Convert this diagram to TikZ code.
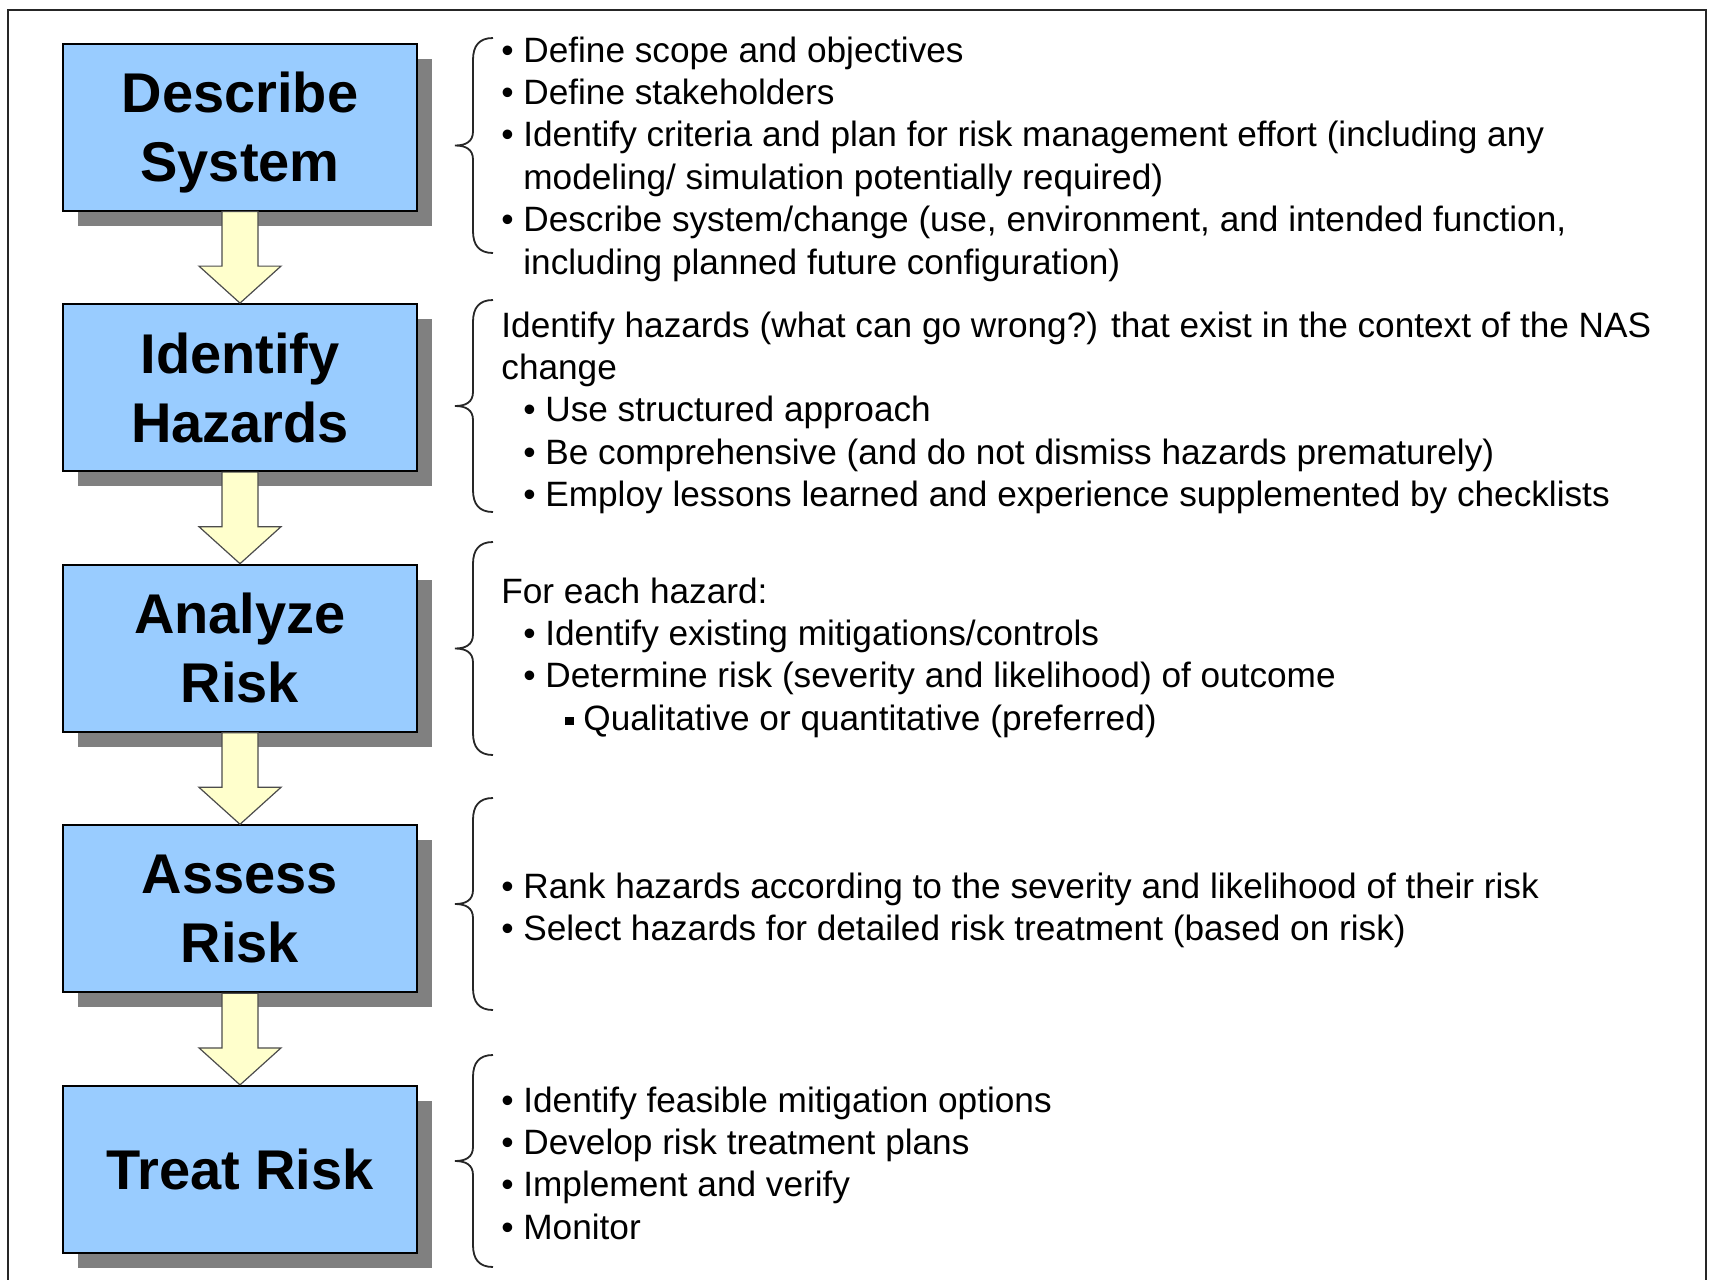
\documentclass[tikz,border=0pt]{standalone}
\usepackage{fontspec}
\setmainfont{Liberation Sans}
\usetikzlibrary{calc,shadows}

\definecolor{stageblue}{RGB}{153,204,255}
\definecolor{flowyellow}{RGB}{255,255,204}
\definecolor{shadegray}{RGB}{128,128,128}

\newcommand{\itm}{\makebox[11pt][l]{\textbullet}}
\newcommand{\sqitm}{\makebox[9pt][l]{\rule[2.5pt]{4.3pt}{4.3pt}}}
% curly brace from y=#1 down to y=#2
\newcommand{\sbrace}[2]{%
  \draw[brc] (493,#1) .. controls (479,#1) and (473,{#1+8}) .. (473,{#1+22})
    -- (473,{(#1+#2)/2-14}) .. controls (473,{(#1+#2)/2-4}) and (466,{(#1+#2)/2}) .. (455,{(#1+#2)/2})
    .. controls (466,{(#1+#2)/2}) and (473,{(#1+#2)/2+4}) .. (473,{(#1+#2)/2+14})
    -- (473,{#2-22}) .. controls (473,{#2-8}) and (479,#2) .. (493,#2);}

\tikzset{
  stage/.style={draw=black, line width=1pt, fill=stageblue,
    minimum width=177pt, minimum height=83.5pt, align=center, text depth=0pt,
    font=\fontsize{28}{34.5}\selectfont\bfseries,
    drop shadow={shadow xshift=7.5pt, shadow yshift=-7.5pt, fill=shadegray, opacity=1}},
  txt/.style={anchor=base west, inner sep=0pt, font=\fontsize{17.6}{21.2}\selectfont},
  brc/.style={draw=black!85, line width=0.9pt},
  fat/.style={draw=black!70, fill=flowyellow, line width=0.6pt,
    to path={($(\tikztostart.south)+(-18,0)$) -- ($(\tikztotarget.north)+(-18,-37)$)
      -- ++(-23,0) -- (\tikztotarget.north) -- ++(41,-37) -- ++(-23,0)
      -- ($(\tikztostart.south)+(18,0)$) -- cycle}}
}

\begin{document}
\begin{tikzpicture}[x=0.5pt,y=-0.5pt]
  \useasboundingbox (0,0) rectangle (1709,1280);
  \draw[line width=1.2pt, black!85] (8,1280) -- (8,10) -- (1706,10) -- (1706,1280);

  \draw
    (240,127) node[stage] (ds) {Describe\\System}
    (240,387.6) node[stage] (ih) {Identify\\Hazards}
    (240,648.2) node[stage] (ar) {Analyze\\Risk}
    (240,908.8) node[stage] (as) {Assess\\Risk}
    (240,1169.4) node[stage] (tr) {Treat Risk};

  \begin{scope}
    \draw[fat] (ds) to (ih);
    \draw[fat] (ih) to (ar);
    \draw[fat] (ar) to (as);
    \draw[fat] (as) to (tr);
  \end{scope}

  \sbrace{38}{253}
  \sbrace{300}{512}
  \sbrace{542}{755}
  \sbrace{798}{1010}
  \sbrace{1055}{1267}

  \draw
    (501,62) node[txt] (ds1) {\itm Define scope and objectives}
    (501,104.4) node[txt] (ds2) {\itm Define stakeholders}
    (501,146.8) node[txt] (ds3) {\itm Identify criteria and plan for risk management effort (including any}
    (523,189.2) node[txt] (ds4) {modeling/ simulation potentially required)}
    (501,231.6) node[txt] (ds5) {\itm Describe system/change (use, environment, and intended function,}
    (523,274) node[txt] (ds6) {including planned future configuration)};

  \draw
    (501,337) node[txt] (ih1) {Identify hazards (what can go wrong?) that exist in the context of the NAS}
    (501,379.4) node[txt] (ih2) {change}
    (523,421.8) node[txt] (ih3) {\itm Use structured approach}
    (523,464.2) node[txt] (ih4) {\itm Be comprehensive (and do not dismiss hazards prematurely)}
    (523,506.6) node[txt] (ih5) {\itm Employ lessons learned and experience supplemented by checklists};

  \draw
    (501,603) node[txt] (ar1) {For each hazard:}
    (523,645.4) node[txt] (ar2) {\itm Identify existing mitigations/controls}
    (523,687.8) node[txt] (ar3) {\itm Determine risk (severity and likelihood) of outcome}
    (565,730.2) node[txt] (ar4) {\sqitm Qualitative or quantitative (preferred)};

  \draw
    (501,898) node[txt] (as1) {\itm Rank hazards according to the severity and likelihood of their risk}
    (501,940.4) node[txt] (as2) {\itm Select hazards for detailed risk treatment (based on risk)};

  \draw
    (501,1112) node[txt] (tr1) {\itm Identify feasible mitigation options}
    (501,1154.4) node[txt] (tr2) {\itm Develop risk treatment plans}
    (501,1196.8) node[txt] (tr3) {\itm Implement and verify}
    (501,1239.2) node[txt] (tr4) {\itm Monitor};
\end{tikzpicture}
\end{document}
